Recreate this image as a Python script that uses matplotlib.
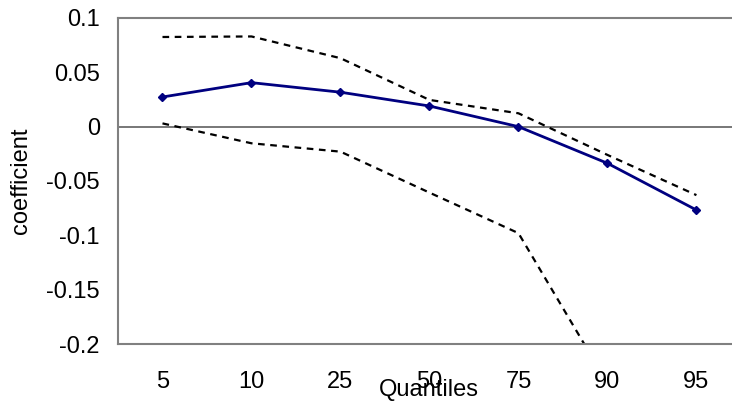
import matplotlib.pyplot as plt
import numpy as np

plt.rcParams['font.family'] = ['Liberation Sans', 'DejaVu Sans']

# Quantile regression coefficients with confidence band
quantiles = ['5', '10', '25', '50', '75', '90', '95']
coef = [0.0273, 0.0405, 0.0317, 0.019, 0.0, -0.0337, -0.0767]
upper = [0.0825, 0.083, 0.063, 0.0246, 0.0123, -0.026, -0.063]
lower = [0.003, -0.0153, -0.023, -0.0607, -0.098, -0.236, -0.32]
yticks = [0.1, 0.05, 0, -0.05, -0.1, -0.15, -0.2]
ytick_labels = ['0.1', '0.05', '0', '-0.05', '-0.1', '-0.15', '-0.2']

fig = plt.figure(figsize=(7.32, 4.05), dpi=100)
ax = fig.add_axes([0.1612, 0.1506, 0.851, 0.805])

x = np.arange(len(quantiles))
ax.axhline(0, color='#606060', lw=1.2, zorder=1)
ax.plot(x, upper, color='black', lw=1.6, dashes=(3, 2.5), zorder=2)
ax.plot(x, lower, color='black', lw=1.6, dashes=(3, 2.5), zorder=2)
ax.plot(x, coef, color='#000080', lw=2, marker='D', markersize=4.5, zorder=3)

ax.set_xlim(-0.5, len(quantiles) - 0.5)
ax.set_ylim(-0.2, 0.1)
ax.set_xticks(x)
ax.set_xticklabels(quantiles)
ax.set_yticks(yticks)
ax.set_yticklabels(ytick_labels)
ax.tick_params(axis='x', length=0, pad=19.5, labelsize=17)
ax.tick_params(axis='y', length=0, pad=13, labelsize=17)

for s in ['left', 'top', 'bottom', 'right']:
    ax.spines[s].set_color('#808080')
    ax.spines[s].set_linewidth(1.5)

ax.set_ylabel('coefficient', fontsize=17)
ax.yaxis.set_label_coords(-0.138, 0.5)
fig.text(429 / 732, 1 - 390 / 405, 'Quantiles', fontsize=17, ha='center', va='center')

fig.savefig('out.png', dpi=100)
